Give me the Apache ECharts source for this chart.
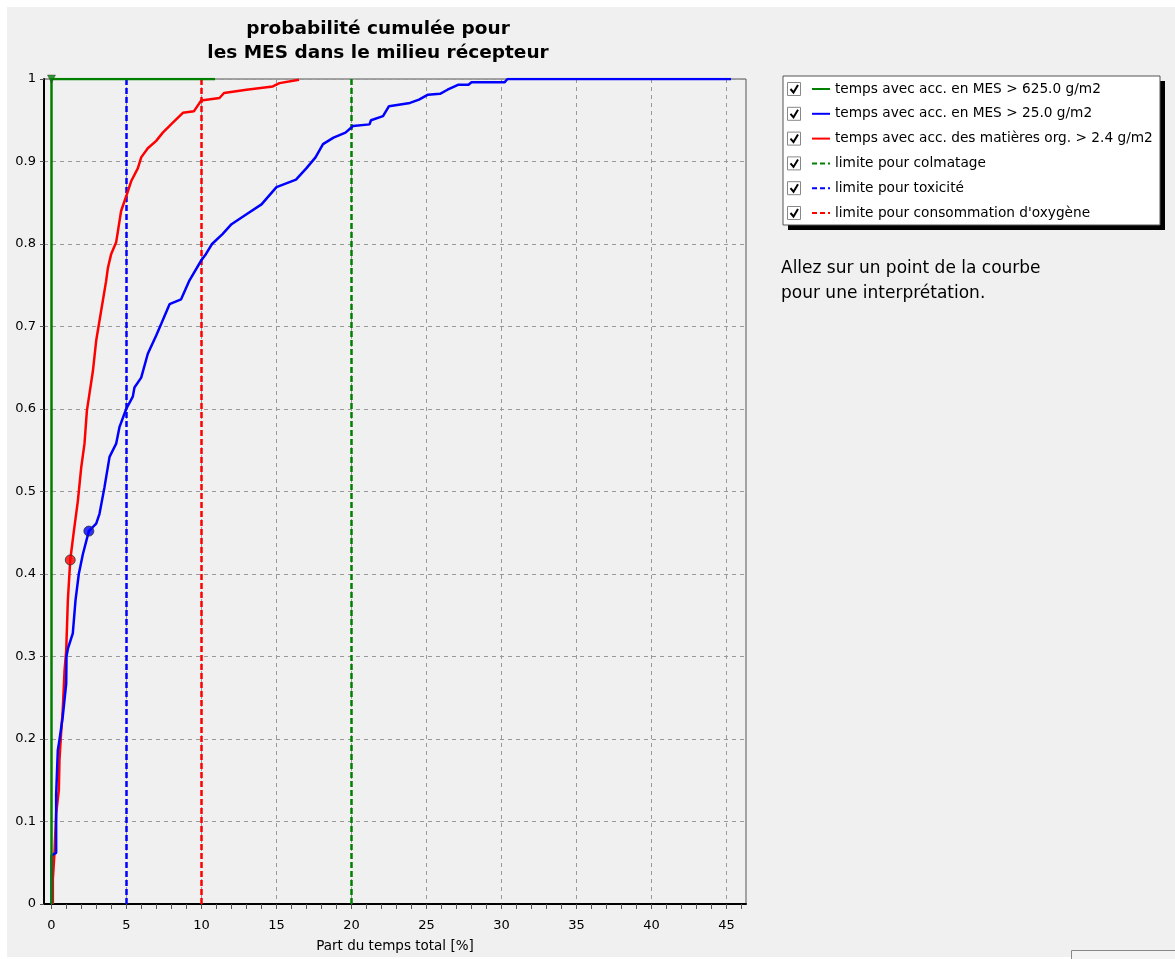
<!DOCTYPE html>
<html><head><meta charset="utf-8">
<script src="https://cdn.jsdelivr.net/npm/echarts@6/dist/echarts.min.js"></script>
<style>html,body{margin:0;padding:0;background:#ffffff;} #c{width:1175px;height:959px;}</style>
</head><body><div id="c"></div>
<script>
const titleLines = ['probabilité cumulée pour', 'les MES dans le milieu récepteur'];
const xAxisName = 'Part du temps total [%]';
const xTickValues = [0, 5, 10, 15, 20, 25, 30, 35, 40, 45];
const xMinorTickValues = [0,1,2,3,4,5,6,7,8,9,10,11,12,13,14,15,16,17,18,19,20,21,22,23,24,25,26,27,28,29,30,31,32,33,34,35,36,37,38,39,40,41,42,43,44,45,46];
const seriesNames = [
  'temps avec acc. en MES > 625.0 g/m2',
  'temps avec acc. en MES > 25.0 g/m2',
  'temps avec acc. des matières org. > 2.4 g/m2',
  'limite pour colmatage',
  'limite pour toxicité',
  "limite pour consommation d'oxygène"
];
const seriesColors = ['#008000', '#0000ff', '#ff0000', '#008000', '#0000ff', '#ff0000'];
const hintLines = ['Allez sur un point de la courbe', 'pour une interprétation.'];

const greenX = [0, 0, 10.9];
const greenY = [0, 1, 1];

const blueX = [0, 0, 0.31, 0.31, 0.42, 0.53, 0.75, 0.98, 1.0, 1.1, 1.42, 1.6, 1.82, 2.09, 2.49, 2.98, 3.2, 3.53, 3.87, 4.31, 4.53, 4.98, 5.42, 5.53, 5.98, 6.42, 6.98, 7.31, 7.87, 8.64, 9.2, 9.98, 10.3, 10.7, 11.4, 12.0, 13.0, 14.0, 15.0, 16.3, 17.0, 17.6, 18.1, 18.8, 19.6, 20.1, 21.2, 21.3, 22.1, 22.5, 23.9, 24.5, 25.1, 25.9, 26.4, 27.1, 27.8, 28.0, 30.2, 30.4, 45.3];
const blueY = [0, 0.059, 0.062, 0.132, 0.186, 0.199, 0.227, 0.267, 0.30, 0.31, 0.328, 0.368, 0.40, 0.424, 0.452, 0.461, 0.473, 0.505, 0.542, 0.558, 0.578, 0.600, 0.615, 0.626, 0.638, 0.667, 0.689, 0.703, 0.727, 0.733, 0.756, 0.78, 0.788, 0.80, 0.812, 0.824, 0.836, 0.848, 0.869, 0.878, 0.892, 0.905, 0.921, 0.929, 0.935, 0.943, 0.945, 0.950, 0.955, 0.967, 0.971, 0.975, 0.981, 0.982, 0.987, 0.993, 0.993, 0.996, 0.996, 1.0, 1.0];

const redX = [0.09, 0.09, 0.2, 0.31, 0.49, 0.53, 0.64, 0.75, 0.87, 0.98, 1.09, 1.25, 1.47, 1.76, 1.98, 2.2, 2.36, 2.76, 2.98, 3.31, 3.64, 3.76, 3.98, 4.31, 4.64, 5.02, 5.31, 5.76, 5.98, 6.42, 6.98, 7.42, 8.09, 8.76, 9.5, 9.98, 11.2, 11.5, 13.0, 14.75, 15.2, 16.5];
const redY = [0, 0.03, 0.062, 0.11, 0.138, 0.174, 0.207, 0.235, 0.283, 0.307, 0.368, 0.417, 0.449, 0.489, 0.529, 0.558, 0.598, 0.646, 0.683, 0.719, 0.755, 0.771, 0.788, 0.802, 0.840, 0.860, 0.876, 0.892, 0.905, 0.916, 0.925, 0.935, 0.947, 0.959, 0.961, 0.974, 0.977, 0.983, 0.987, 0.991, 0.995, 0.999];

const limitValues = [20, 5, 10];
const markerGreen = [0, 1];
const markerBlue = [2.49, 0.452];
const markerRed = [1.25, 0.417];

const FONT = 'DejaVu Sans, Verdana, sans-serif';
const zip = (xs, ys) => xs.map((x, i) => [x, ys[i]]);

const curveData = [zip(greenX, greenY), zip(blueX, blueY), zip(redX, redY)];
const series = [];
limitValues.forEach((v, i) => {
  series.push({
    name: seriesNames[3 + i], type: 'line', xAxisIndex: 0, yAxisIndex: 0,
    data: [[v, 0], [v, 1]], showSymbol: false, silent: true,
    lineStyle: { color: seriesColors[3 + i], width: 2.5, type: [6, 3] }, z: 3
  });
});
[2, 1, 0].forEach(i => {
  series.push({
    name: seriesNames[i], type: 'line', xAxisIndex: 0, yAxisIndex: 0,
    data: curveData[i], showSymbol: false, silent: true,
    lineStyle: { color: seriesColors[i], width: 2.5 }, z: 4
  });
});
series.push({ type: 'scatter', data: [markerRed], symbol: 'circle', symbolSize: 10,
  itemStyle: { color: '#ff0000', borderColor: '#333', borderWidth: 1 }, z: 6 });
series.push({ type: 'scatter', data: [markerBlue], symbol: 'circle', symbolSize: 10,
  itemStyle: { color: '#0000ff', borderColor: '#333', borderWidth: 1 }, z: 6 });
series.push({ type: 'scatter', data: [markerGreen], symbol: 'triangle', symbolRotate: 180, symbolSize: 8,
  itemStyle: { color: '#008000', borderColor: '#333', borderWidth: 0.5 }, z: 6 });

// Legend graphic
const LX = 783, LY = 76, LW = 377, LH = 149, ROW0 = 89, ROWH = 24.8;
const legendEls = [
  { type: 'rect', shape: { x: LX + 5, y: LY + 5, width: LW, height: LH }, style: { fill: '#000' }, z: 10 },
  { type: 'rect', shape: { x: LX, y: LY, width: LW, height: LH }, style: { fill: '#fff', stroke: '#555', lineWidth: 1 }, z: 11 }
];
seriesNames.forEach((name, i) => {
  const cy = ROW0 + i * ROWH;
  legendEls.push({ type: 'rect', shape: { x: 787.5, y: cy - 6.5, width: 13, height: 13 }, style: { fill: '#fff', stroke: '#888', lineWidth: 1 }, z: 12 });
  legendEls.push({ type: 'polyline', shape: { points: [[790.5, cy], [793.5, cy + 3.5], [798, cy - 4]] }, style: { stroke: '#000', lineWidth: 2, fill: null }, z: 13 });
  legendEls.push({ type: 'line', shape: { x1: 812, y1: cy, x2: 830, y2: cy },
    style: { stroke: seriesColors[i], lineWidth: 2, lineDash: i >= 3 ? [5, 3] : null }, z: 12 });
  legendEls.push({ type: 'text', x: 835, y: cy, style: { text: name, font: '13.7px ' + FONT, fill: '#000', textVerticalAlign: 'middle' }, z: 12 });
});

const option = {
  animation: false,
  backgroundColor: 'transparent',
  grid: { left: 44, right: 429, top: 79, bottom: 55, show: true, backgroundColor: '#f0f0f0', borderColor: '#555', borderWidth: 1 },
  xAxis: [{
    type: 'value', min: -0.5, max: 46.3, position: 'bottom',
    axisLine: { show: true, onZero: false, lineStyle: { color: '#000', width: 2 } },
    axisTick: { show: false, customValues: xTickValues },
    axisLabel: { customValues: xTickValues, color: '#000', fontSize: 13, fontFamily: FONT, margin: 15 },
    splitLine: { show: true, lineStyle: { color: '#999', type: [4, 4], width: 1 } },
    name: xAxisName, nameLocation: 'middle', nameGap: 35,
    nameTextStyle: { color: '#000', fontSize: 13.5, fontFamily: FONT }
  }, {
    type: 'value', min: -0.5, max: 46.3, position: 'bottom',
    axisLine: { show: false },
    axisTick: { show: true, customValues: xMinorTickValues, length: 5, lineStyle: { color: '#555', width: 1 } },
    axisLabel: { show: false },
    splitLine: { show: false }
  }],
  yAxis: {
    type: 'value', min: 0, max: 1, interval: 0.1,
    axisLine: { show: true, onZero: false, lineStyle: { color: '#000', width: 2 } },
    axisTick: { show: true, length: 4, lineStyle: { color: '#555' } },
    axisLabel: { color: '#000', fontSize: 13, fontFamily: FONT, margin: 8 },
    splitLine: { show: true, lineStyle: { color: '#999', type: [4, 4], width: 1 } }
  },
  series: series,
  graphic: [
    { type: 'rect', shape: { x: 7, y: 7, width: 1168, height: 950 }, style: { fill: '#f0f0f0' }, z: -10, silent: true },
    { type: 'text', x: 378, y: 17, style: { text: titleLines.join('\n'), font: 'bold 18.5px ' + FONT, fill: '#000', textAlign: 'center', textVerticalAlign: 'top', lineHeight: 24 }, z: 5 },
    { type: 'text', x: 781, y: 256, style: { text: hintLines.join('\n'), font: '17px ' + FONT, fill: '#000', lineHeight: 25 }, z: 5 },
    { type: 'rect', shape: { x: 1071.5, y: 950.5, width: 110, height: 12 }, style: { fill: '#f4f4f4', stroke: '#888', lineWidth: 1 }, z: 5 },
    { type: 'group', children: legendEls }
  ]
};
const chart = echarts.init(document.getElementById('c'), null, { renderer: 'canvas' });
chart.setOption(option);
</script></body></html>
